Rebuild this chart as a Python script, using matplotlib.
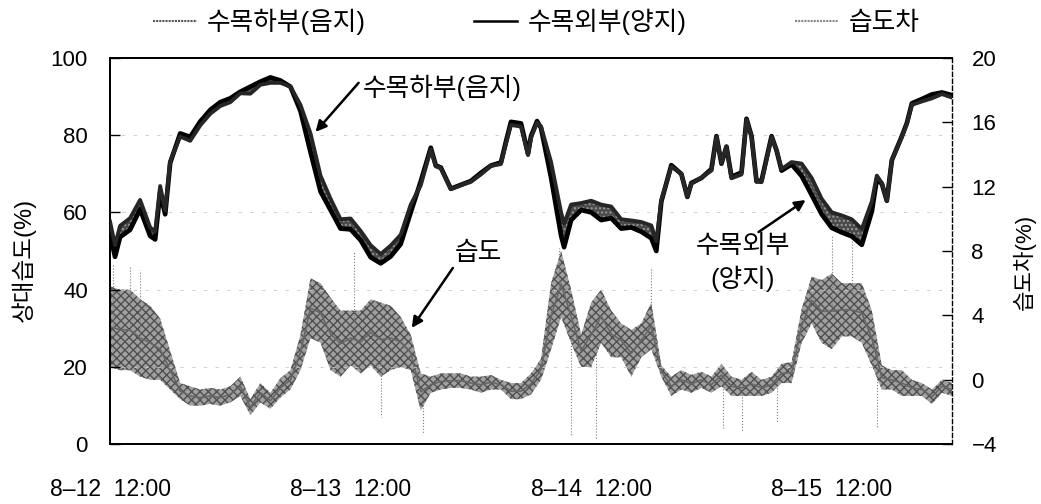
import matplotlib
matplotlib.use("Agg")
import matplotlib.pyplot as plt
from matplotlib.lines import Line2D
import numpy as np

plt.rcParams['font.family'] = ['Liberation Sans', 'Noto Sans CJK KR', 'DejaVu Sans']

# ---------------- data (hours since 8-12 12:00) ----------------
rh_hours = [0, 0.5, 1, 2, 3, 4, 4.5, 5, 5.5, 6, 7, 8, 9, 10, 11, 12, 13, 14, 15, 16, 17, 18, 19, 20,
            21, 22, 23, 24, 25, 26, 27, 28, 29, 30, 31, 32, 32.5, 33, 34, 35, 36, 37, 38, 39, 39.5,
            40, 41, 41.7, 42, 42.6, 43, 44, 45, 45.3, 46, 47, 48, 49, 50, 51, 52, 53, 54, 54.5, 55,
            56, 57, 57.6, 58, 59, 60, 60.5, 61, 61.5, 62, 63, 63.5, 64, 64.5, 65, 66, 66.5, 67, 68,
            69, 70, 71, 72, 73, 74, 75, 76, 76.5, 77, 77.5, 78, 79, 79.5, 80, 81, 82, 83, 84]

rh_shade = [57.6, 51.5, 56.5, 58.5, 63.2, 56.1, 55.0, 66.8, 60.5, 73.2, 79.6, 78.5, 82.5, 85.5, 87.5,
            88.5, 90.8, 90.7, 93.0, 93.5, 93.5, 92.5, 87.8, 80.4,
            69.5, 63.5, 58.2, 58.4, 55.2, 51.5, 49.2, 51.4, 54.2, 62.0, 67.0, 76.3, 71.9, 71.4, 66.0,
            67.0, 67.9, 69.8, 72.0, 72.5, 77.7,
            82.6, 82.2, 74.8, 79.3, 83.2, 82.2, 73.0, 60.0, 57.0, 62.0, 62.4, 63.0, 62.0, 61.5, 58.2,
            57.9, 57.5, 56.6, 52.5, 63.2,
            71.8, 70.0, 64.0, 67.4, 69.0, 70.8, 79.5, 72.8, 77.0, 68.8, 69.8, 84.0, 79.5, 68.0, 67.8,
            79.5, 76.0, 71.2, 73.0,
            72.6, 68.9, 63.5, 60.0, 59.2, 58.2, 55.7, 62.8, 69.5, 67.6, 63.0, 73.5, 79.5, 82.9, 87.8,
            88.7, 89.5, 90.6, 89.7]

rh_sun = [54.3, 48.5, 53.6, 55.5, 60.8, 53.9, 53.0, 65.2, 59.5, 72.8, 80.4, 79.5, 83.5, 86.5, 88.5,
          89.5, 91.2, 92.5, 93.8, 94.9, 94.1, 92.5, 86.2, 75.6,
          65.4, 60.6, 55.8, 55.6, 52.8, 48.4, 46.8, 48.6, 51.8, 60.0, 68.0, 76.7, 72.1, 71.6, 66.1,
          67.1, 68.1, 70.2, 72.1, 72.9, 78.3,
          83.4, 83.0, 75.2, 79.7, 83.6, 81.8, 69.0, 54.0, 51.0, 58.0, 60.6, 60.0, 58.0, 58.5, 55.8,
          56.1, 55.0, 53.3, 50.0, 62.8,
          72.2, 69.9, 64.0, 67.6, 68.9, 71.2, 79.7, 72.6, 77.0, 69.2, 70.3, 84.2, 79.7, 68.0, 68.2,
          79.7, 76.0, 70.8, 72.4,
          69.4, 64.5, 59.5, 56.0, 54.8, 53.8, 51.6, 60.2, 68.5, 67.4, 63.0, 73.5, 79.7, 83.1, 88.2,
          89.3, 90.5, 91.0, 90.3]

diff_hours = list(range(0, 85))
diff_lo = [0.8, 0.6, 0.6, 0.2, 0.0, 0.0, -0.6, -1.2, -1.6, -1.6, -1.5, -1.6, -1.4, -1.0, -2.2, -1.4,
           -1.8, -1.1, -0.6, 0.6, 2.6, 2.3, 0.6, 0.2, 0.9, 0.4, 0.9, 0.2, 0.6, 0.8, 0.6, -1.9,
           -0.8, -0.6, -0.5, -0.5, -0.6, -0.8, -0.6, -0.6, -1.2, -1.2, -0.9, 0.0, 1.9, 3.9, 2.3,
           0.8, 0.8, 2.3, 1.4, 1.4, 0.2, 1.4, 1.9, 0.2, -1.0, -0.6, -0.8, -0.5, -0.8, -0.4, -1.0,
           -1.0, -1.0, -1.0, -0.8, -0.2, -0.2, 2.3, 3.5, 2.3, 1.9, 2.7, 2.7, 2.3, 0.9, -0.6, -0.6,
           -1.0, -1.0, -1.0, -1.5, -0.8, -1.0]
diff_hi = [5.8, 5.6, 5.6, 5.0, 4.6, 3.8, 1.8, -0.2, -0.4, -0.6, -0.5, -0.6, -0.4, 0.2, -1.2, -0.2,
           -0.8, 0.1, 0.6, 2.8, 6.3, 6.0, 5.1, 4.3, 4.3, 4.3, 5.0, 4.8, 4.6, 3.9, 2.8, 0.4,
           0.2, 0.4, 0.4, 0.4, 0.2, 0.2, 0.3, 0.0, -0.2, -0.2, 0.4, 1.3, 6.0, 8.0, 5.6,
           2.8, 4.8, 5.6, 4.3, 3.5, 3.1, 3.5, 4.8, 0.9, 0.2, 0.6, 0.3, 0.5, 0.2, 1.0, 0.2,
           0.0, 0.5, 0.0, 0.2, 1.0, 1.1, 4.4, 6.4, 6.2, 6.6, 6.0, 6.0, 6.0, 4.3, 0.9, 0.6,
           0.6, 0.0, -0.2, -0.6, 0.0, -0.2]

spike_hours = [0.3, 2.0, 3.0, 24.3, 27.0, 31.2, 44.8, 46.0, 48.5, 54.0, 61.2, 63.0, 66.5, 72.0, 74.0, 76.5]
spike_vals = [7.2, 7.0, 6.8, 8.0, -2.3, -3.3, 8.2, -3.5, -3.6, 7.0, -3.0, -3.2, -2.7, 8.9, 8.6, -3.0]

xtick_hours = [0, 24, 48, 72]
xtick_labels = ['8–12  12:00', '8–13  12:00', '8–14  12:00', '8–15  12:00']
left_ticks = [0, 20, 40, 60, 80, 100]
right_ticks = [-4, 0, 4, 8, 12, 16, 20]

series_names = ['수목하부(음지)', '수목외부(양지)', '습도차']

# ---------------- figure ----------------
fig = plt.figure(figsize=(10.41, 5.04), dpi=100)
ax = fig.add_axes([0.1057, 0.1185, 0.8088, 0.767])
ax2 = ax.twinx()
ax.set_zorder(ax2.get_zorder() + 1)
ax.patch.set_visible(False)

# difference band on right axis
lo = np.array(diff_lo)
hi = np.array(diff_hi)
ax2.fill_between(diff_hours, lo, hi, facecolor='#a0a0a0', edgecolor='#505050',
                 hatch='xxxx', linewidth=0, zorder=2)
mid = (lo + hi) / 2
ax2.plot(diff_hours, mid, color='#666666', lw=1.2, zorder=3)
sp_base = np.interp(spike_hours, diff_hours, mid)
ax2.vlines(spike_hours, sp_base, spike_vals, color='#7a7a7a', lw=0.8, linestyles=':', zorder=3)

# relative humidity lines (band between the two sites filled)
ax.fill_between(rh_hours, rh_sun, rh_shade, facecolor='#4a4a4a', edgecolor='#9a9a9a',
                hatch='....', linewidth=0, zorder=3)
ax.plot(rh_hours, rh_sun, color='black', lw=3.4, zorder=4, solid_joinstyle='round')
ax.plot(rh_hours, rh_shade, color='#262626', lw=2.8, zorder=5, solid_joinstyle='round')

ax.set_xlim(0, 84)
ax.set_ylim(0, 100)
ax2.set_ylim(-4, 20)

ax.set_xticks(xtick_hours)
ax.set_xticklabels(xtick_labels)
ax.set_yticks(left_ticks)
ax2.set_yticks(right_ticks)

ax.tick_params(axis='x', length=0, pad=24, labelsize=16.5)
ax.tick_params(axis='y', direction='in', length=7, width=1, pad=16, labelsize=16)
ax2.tick_params(axis='y', direction='in', length=7, width=1, pad=14, labelsize=16)

for a in (ax, ax2):
    for s in a.spines.values():
        s.set_linewidth(1.3)
        s.set_color('black')
ax2.spines['right'].set_linestyle((0, (3, 2)))
ax2.spines['right'].set_linewidth(1.0)
ax.spines['right'].set_visible(False)

# faint grid remnants
for v in [20, 40, 60, 80]:
    ax.axhline(v, color='#c8c8c8', lw=0.6, ls=(0, (4, 10)), zorder=1)

ax.set_ylabel('상대습도(%)', fontsize=17)
ax.yaxis.set_label_coords(-0.088, 0.477)
ax2.set_ylabel('습도차(%)', fontsize=16, rotation=90)
ax2.yaxis.set_label_coords(1.072, 0.472)

# annotations
arrow = dict(arrowstyle='-|>', color='black', lw=1.8, mutation_scale=16, shrinkA=0, shrinkB=0)
ax.annotate('', xy=(20.5, 80.8), xytext=(24.8, 93.5), arrowprops=arrow, zorder=6)
ax.text(25.2, 92.2, series_names[0], fontsize=18.5, va='center', ha='left', zorder=6)

ax.annotate('', xy=(30.1, 30.1), xytext=(34.2, 45.6), arrowprops=arrow, zorder=6)
ax.text(36.7, 49.5, '습도', fontsize=18.5, va='center', ha='center', zorder=6)

ax.annotate('', xy=(69.4, 63.2), xytext=(64.7, 54.9), arrowprops=arrow, zorder=6)
ax.text(63.1, 46.9, '수목외부\n(양지)', fontsize=18.5, va='center', ha='center',
        linespacing=1.35, zorder=6)

handles = [Line2D([], [], color='#555555', lw=1.5, ls=(0, (1, 0.5))),
           Line2D([], [], color='black', lw=1.8),
           Line2D([], [], color='#8a8a8a', lw=1.5, ls=(0, (1, 0.5)))]
fig.legend(handles, series_names, loc='center', bbox_to_anchor=(0.515, 0.956), ncol=3,
           frameon=False, fontsize=18.5, handlelength=1.7, handletextpad=0.4, columnspacing=4.2)

fig.savefig('out.png', dpi=100)
